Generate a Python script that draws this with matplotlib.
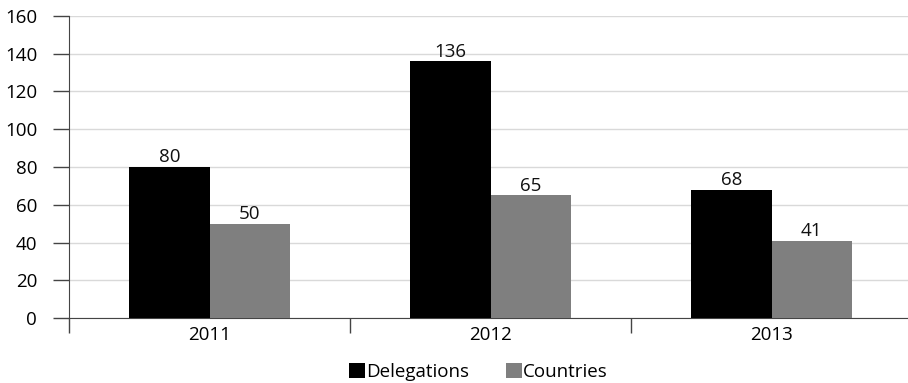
import numpy as np
import matplotlib.pyplot as plt

# 年份与两组数值
years = ['2011', '2012', '2013']
delegations = [80, 136, 68]
countries = [50, 65, 41]
y_ticks = [0, 20, 40, 60, 80, 100, 120, 140, 160]

plt.rcParams['font.family'] = ['Open Sans', 'DejaVu Sans']
plt.rcParams['font.size'] = 13.5

fig = plt.figure(figsize=(9.08, 3.83), dpi=100)
ax = fig.add_axes([69 / 908, 65 / 383, 843 / 908, 302 / 383])

x = np.arange(len(years))
w = 0.285

bars1 = ax.bar(x - w / 2, delegations, width=w, color='#000000', label='Delegations', zorder=3)
bars2 = ax.bar(x + w / 2, countries, width=w, color='#7f7f7f', label='Countries', zorder=3)

# 柱顶数值
for bars, vals in [(bars1, delegations), (bars2, countries)]:
    for b, v in zip(bars, vals):
        ax.text(b.get_x() + b.get_width() / 2, v + 0.3, str(v),
                ha='center', va='bottom', fontsize=13.5, color='#111111')

ax.set_xlim(-0.5, 2.5)
ax.set_ylim(0, 160)
ax.set_yticks(y_ticks)
ax.yaxis.grid(True, color='#d9d9d9', lw=1, zorder=0)

# 分隔刻度在类别之间，标签在类别中间
ax.set_xticks([-0.5, 0.5, 1.5, 2.5])
ax.set_xticklabels([])
ax.set_xticks(x, minor=True)
ax.set_xticklabels(years, minor=True)
ax.tick_params(axis='x', which='major', length=11, width=1, color='#444444', direction='out')
ax.tick_params(axis='x', which='minor', length=0, pad=5.5)
ax.tick_params(axis='y', length=11.5, width=1, color='#444444', pad=11.5)

for s in ['top', 'right']:
    ax.spines[s].set_visible(False)
ax.spines['left'].set_color('#444444')
ax.spines['bottom'].set_color('#444444')

fig.legend(loc='lower center', bbox_to_anchor=(0.527, -0.04), ncol=2, frameon=False,
           handlelength=0.85, handleheight=0.85, handletextpad=0.05, columnspacing=2.0,
           fontsize=13.5)

plt.savefig('out.png', dpi=100)
